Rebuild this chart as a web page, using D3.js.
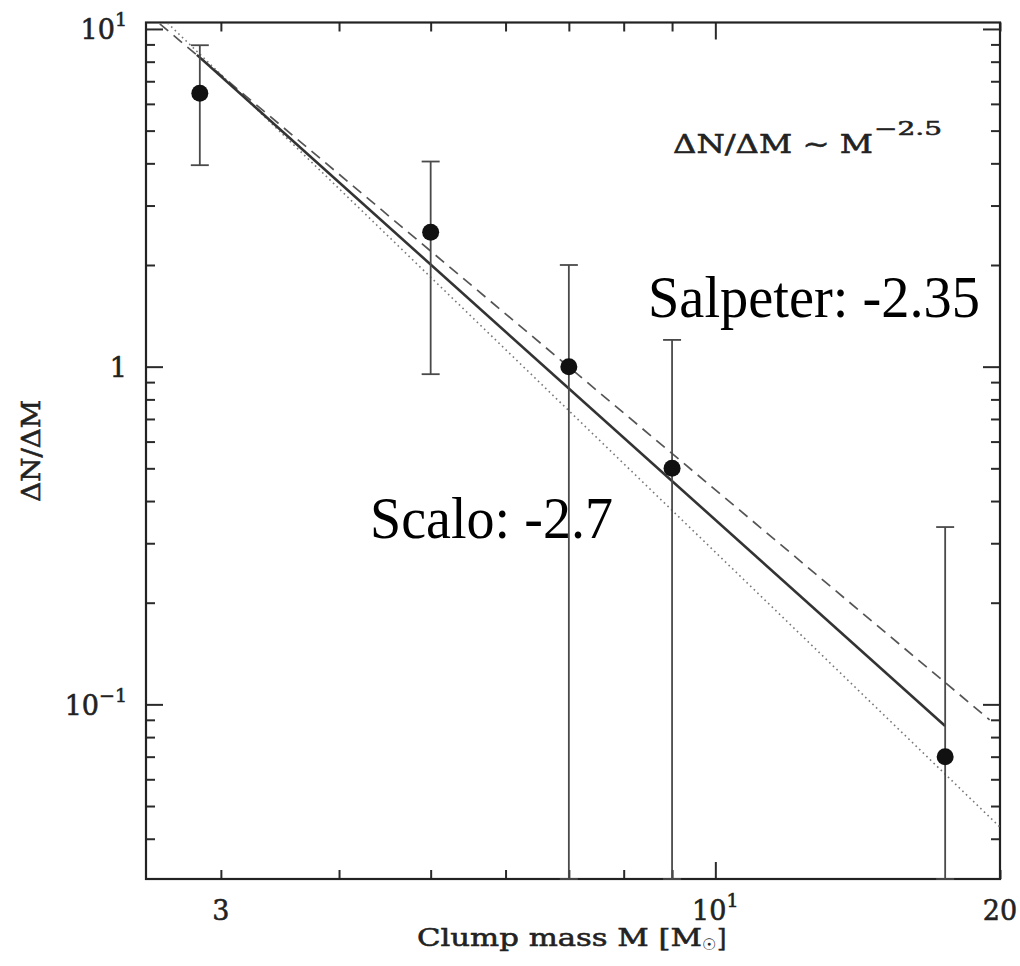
<!DOCTYPE html>
<html>
<head>
<meta charset="utf-8">
<script src="https://cdn.jsdelivr.net/npm/d3@7"></script>
<style>
  html, body { margin: 0; padding: 0; background: #fff; }
  svg { display: block; }
  .pg { stroke: #222; stroke-width: 0.55; paint-order: stroke; }
</style>
</head>
<body>
<svg id="chart" width="1020" height="966"></svg>
<script>
// Clump mass bins (solar masses), measured dN/dM and symmetric 1-sigma errors
const clumpMass = [2.85, 5.0, 7.0, 9.0, 17.5];
const dNdM = [6.45, 2.5, 1.0, 0.5, 0.07];
const dNdMErr = [2.5, 1.55, 1.0, 0.7, 0.265];

// Power-law reference lines, each given by its two end points [M, dN/dM]
const fitLine = [[2.83, 8.38], [17.5, 0.0863]];      // fitted, slope -2.5
const salpeterLine = [[2.5, 11.2], [19.5, 0.090]];   // Salpeter, slope -2.35
const scaloLine = [[2.5, 12.0], [20, 0.0433]];       // Scalo, slope -2.7

// Tick values and tick labels
const xMinorTicks = [3, 4, 5, 6, 7, 8, 9, 20];
const xMajorTicks = [10];
const yMinorTicks = [0.04, 0.05, 0.06, 0.07, 0.08, 0.09,
                     0.2, 0.3, 0.4, 0.5, 0.6, 0.7, 0.8, 0.9,
                     2, 3, 4, 5, 6, 7, 8, 9];
const yMajorTicks = [0.1, 1, 10];
const xTickLabels = [
  { v: 3, base: "3", sup: "" },
  { v: 10, base: "10", sup: "1" },
  { v: 20, base: "20", sup: "" }
];
const yTickLabels = [
  { v: 10, base: "10", sup: "1" },
  { v: 1, base: "1", sup: "" },
  { v: 0.1, base: "10", sup: "\u22121" }
];

const svg = d3.select("#chart");
const L = 146, R = 1000, T = 22.5, B = 879;

const x = d3.scaleLog().domain([2.5, 20]).range([L, R]);
const y = d3.scaleLog().domain([0.0304, 10.45]).range([B, T]);

const plotFont = "'DejaVu Serif', serif";
const annFont = "'Liberation Serif', 'Times New Roman', serif";

svg.append("defs").append("clipPath").attr("id", "plot-clip")
  .append("rect").attr("x", L).attr("y", T).attr("width", R - L).attr("height", B - T);

// Inward ticks on all four sides
function tickAxis(axisFn, scale, vals, size, tx, ty) {
  svg.append("g")
    .attr("transform", `translate(${tx},${ty})`)
    .call(axisFn(scale).tickValues(vals).tickSize(size).tickFormat(""))
    .call(g => g.select(".domain").remove())
    .call(g => g.selectAll(".tick line").attr("stroke", "#2a2a2a").attr("stroke-width", 2));
}
tickAxis(d3.axisBottom, x, xMinorTicks, -9, 0, B);
tickAxis(d3.axisBottom, x, xMajorTicks, -17, 0, B);
tickAxis(d3.axisTop, x, xMinorTicks, -9, 0, T);
tickAxis(d3.axisTop, x, xMajorTicks, -17, 0, T);
tickAxis(d3.axisLeft, y, yMinorTicks, -9, L, 0);
tickAxis(d3.axisLeft, y, yMajorTicks, -17, L, 0);
tickAxis(d3.axisRight, y, yMinorTicks, -9, R, 0);
tickAxis(d3.axisRight, y, yMajorTicks, -17, R, 0);

// Frame
svg.append("rect")
  .attr("x", L).attr("y", T).attr("width", R - L).attr("height", B - T)
  .attr("fill", "none").attr("stroke", "#222").attr("stroke-width", 2.2);

// Tick labels with optional superscript exponent
function tickLabel(sel, d) {
  sel.append("tspan").text(d.base);
  if (d.sup) {
    sel.append("tspan").attr("dy", -13).attr("font-size", 19).text(d.sup);
  }
}
xTickLabels.forEach(d => {
  const t = svg.append("text").attr("class", "pg")
    .attr("x", x(d.v)).attr("y", 920)
    .attr("text-anchor", "middle")
    .attr("font-family", plotFont).attr("font-size", 27).attr("fill", "#222");
  tickLabel(t, d);
});
yTickLabels.forEach(d => {
  const t = svg.append("text").attr("class", "pg")
    .attr("x", 127).attr("y", y(d.v) + 10.5)
    .attr("text-anchor", "end")
    .attr("font-family", plotFont).attr("font-size", 27).attr("fill", "#222");
  tickLabel(t, d);
});

// Axis titles
svg.append("text").attr("class", "pg")
  .attr("x", 417).attr("y", 946)
  .attr("font-family", plotFont).attr("font-size", 25).attr("fill", "#222")
  .attr("textLength", 285).attr("lengthAdjust", "spacingAndGlyphs")
  .text("Clump mass M [M");
svg.append("text")
  .attr("x", 702).attr("y", 950)
  .attr("font-family", "'DejaVu Sans', sans-serif").attr("font-size", 16).attr("fill", "#222")
  .text("\u2609");
svg.append("text").attr("class", "pg")
  .attr("x", 717).attr("y", 946)
  .attr("font-family", plotFont).attr("font-size", 24).attr("fill", "#222")
  .text("]");

svg.append("text").attr("class", "pg")
  .attr("transform", `translate(40,${(T + B) / 2}) rotate(-90)`)
  .attr("text-anchor", "middle")
  .attr("font-family", plotFont).attr("font-size", 26).attr("fill", "#222")
  .attr("textLength", 102).attr("lengthAdjust", "spacingAndGlyphs")
  .text("\u0394N/\u0394M");

// Reference power laws
const line = d3.line().x(d => x(d[0])).y(d => y(d[1]));
const lines = svg.append("g").attr("clip-path", "url(#plot-clip)");
lines.append("path").datum(scaloLine).attr("d", line)
  .attr("fill", "none").attr("stroke", "#777").attr("stroke-width", 1.6)
  .attr("stroke-dasharray", "1.6,3.4");
lines.append("path").datum(salpeterLine).attr("d", line)
  .attr("fill", "none").attr("stroke", "#555").attr("stroke-width", 1.7)
  .attr("stroke-dasharray", "11,7");
lines.append("path").datum(fitLine).attr("d", line)
  .attr("fill", "none").attr("stroke", "#333").attr("stroke-width", 2.6);

// Error bars (lower ends that fall below the axis are drawn at the axis)
const yMin = y.domain()[0];
const pts = clumpMass.map((m, i) => ({
  m, v: dNdM[i],
  hi: dNdM[i] + dNdMErr[i],
  lo: Math.max(dNdM[i] - dNdMErr[i], yMin)
}));
const eb = svg.append("g").attr("stroke", "#4a4a4a").attr("stroke-width", 1.8);
eb.selectAll(".stem").data(pts).join("line")
  .attr("x1", d => x(d.m)).attr("x2", d => x(d.m))
  .attr("y1", d => y(d.lo)).attr("y2", d => y(d.hi));
eb.selectAll(".cap-hi").data(pts).join("line")
  .attr("x1", d => x(d.m) - 9).attr("x2", d => x(d.m) + 9)
  .attr("y1", d => y(d.hi)).attr("y2", d => y(d.hi));
eb.selectAll(".cap-lo").data(pts).join("line")
  .attr("x1", d => x(d.m) - 9).attr("x2", d => x(d.m) + 9)
  .attr("y1", d => y(d.lo)).attr("y2", d => y(d.lo));

svg.append("g").selectAll("circle").data(pts).join("circle")
  .attr("cx", d => x(d.m)).attr("cy", d => y(d.v)).attr("r", 8.5)
  .attr("fill", "#111");

// Annotations
svg.append("text").attr("class", "pg")
  .attr("x", 673).attr("y", 153)
  .attr("font-family", plotFont).attr("font-size", 26).attr("fill", "#222")
  .attr("textLength", 200).attr("lengthAdjust", "spacingAndGlyphs")
  .text("\u0394N/\u0394M \u223C M");
svg.append("text").attr("class", "pg")
  .attr("x", 874).attr("y", 135)
  .attr("font-family", plotFont).attr("font-size", 18).attr("fill", "#222")
  .attr("textLength", 68).attr("lengthAdjust", "spacingAndGlyphs")
  .text("\u22122.5");

svg.append("text")
  .attr("x", 648).attr("y", 317)
  .attr("font-family", annFont).attr("font-size", 59).attr("fill", "#000")
  .attr("textLength", 332).attr("lengthAdjust", "spacingAndGlyphs")
  .text("Salpeter: -2.35");
svg.append("text")
  .attr("x", 370).attr("y", 538)
  .attr("font-family", annFont).attr("font-size", 59).attr("fill", "#000")
  .attr("textLength", 243).attr("lengthAdjust", "spacingAndGlyphs")
  .text("Scalo: -2.7");
</script>
</body>
</html>
